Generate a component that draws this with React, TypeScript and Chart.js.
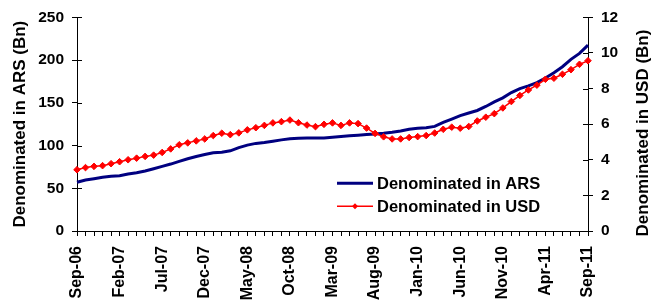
import React, { useEffect, useRef } from 'react';
import { Chart, registerables } from 'chart.js';

Chart.register(...registerables);

const FONT = "'Liberation Sans', Arial, Helvetica, sans-serif";

const MONTHS: string[] = [
  'Sep-06', 'Oct-06', 'Nov-06', 'Dec-06',
  'Jan-07', 'Feb-07', 'Mar-07', 'Apr-07', 'May-07', 'Jun-07', 'Jul-07', 'Aug-07', 'Sep-07', 'Oct-07', 'Nov-07', 'Dec-07',
  'Jan-08', 'Feb-08', 'Mar-08', 'Apr-08', 'May-08', 'Jun-08', 'Jul-08', 'Aug-08', 'Sep-08', 'Oct-08', 'Nov-08', 'Dec-08',
  'Jan-09', 'Feb-09', 'Mar-09', 'Apr-09', 'May-09', 'Jun-09', 'Jul-09', 'Aug-09', 'Sep-09', 'Oct-09', 'Nov-09', 'Dec-09',
  'Jan-10', 'Feb-10', 'Mar-10', 'Apr-10', 'May-10', 'Jun-10', 'Jul-10', 'Aug-10', 'Sep-10', 'Oct-10', 'Nov-10', 'Dec-10',
  'Jan-11', 'Feb-11', 'Mar-11', 'Apr-11', 'May-11', 'Jun-11', 'Jul-11', 'Aug-11', 'Sep-11',
];

const SHOWN_LABELS: string[] = [
  'Sep-06', 'Feb-07', 'Jul-07', 'Dec-07', 'May-08', 'Oct-08', 'Mar-09',
  'Aug-09', 'Jan-10', 'Jun-10', 'Nov-10', 'Apr-11', 'Sep-11',
];

// Denominated in ARS (Bn) - left axis
const ARS: number[] = [
  57, 59.7, 61.2, 62.8, 64, 64.7, 66.7, 68.2, 70.2, 72.9,
  75.6, 78.3, 81.4, 84.5, 87.2, 89.5, 91.5, 92.2, 93.8, 97.5,
  100.5, 102.5, 103.5, 105, 106.6, 107.8, 108.5, 108.9, 108.9, 108.9,
  109.7, 110.5, 111.3, 112, 112.8, 113.6, 114.3, 115.5, 117.1, 119,
  120.2, 120.9, 122.4, 127, 131, 134.9, 138, 141, 145.7, 151,
  155.8, 162, 166.6, 169.8, 173.6, 179, 185.2, 192.2, 200.8, 207.8,
  217.5,
];

// Denominated in USD (Bn) - right axis
const USD: number[] = [
  3.44, 3.56, 3.63, 3.67, 3.78, 3.89, 4.0, 4.09, 4.19, 4.26,
  4.41, 4.61, 4.84, 4.95, 5.06, 5.17, 5.36, 5.49, 5.41, 5.51,
  5.68, 5.8, 5.93, 6.07, 6.14, 6.23, 6.08, 5.95, 5.86, 5.99,
  6.07, 5.93, 6.07, 6.03, 5.78, 5.48, 5.29, 5.17, 5.17, 5.25,
  5.3, 5.36, 5.5, 5.71, 5.83, 5.77, 5.87, 6.18, 6.39, 6.59,
  6.91, 7.27, 7.61, 7.92, 8.19, 8.52, 8.58, 8.8, 9.06, 9.36,
  9.56,
];

const LEFT_TITLE = 'Denominated in ARS (Bn)';
const RIGHT_TITLE = 'Denominated in USD (Bn)';
const ARS_LABEL = 'Denominated in ARS';
const USD_LABEL = 'Denominated in USD';

const ARS_COLOR = '#000080';
const USD_COLOR = '#FF0000';

const extrasPlugin = {
  id: 'extras',
  afterDraw(chart: any) {
    const ctx = chart.ctx as CanvasRenderingContext2D;
    const y = chart.scales.y;
    const y1 = chart.scales.y1;
    const area = chart.chartArea;
    ctx.save();
    // inner half of the crossing tick marks
    ctx.strokeStyle = '#000';
    ctx.lineWidth = 1;
    y.ticks.forEach((_t: any, i: number) => {
      const py = Math.round(y.getPixelForTick(i)) + 0.5;
      ctx.beginPath();
      ctx.moveTo(area.left, py);
      ctx.lineTo(area.left + 5, py);
      ctx.stroke();
    });
    y1.ticks.forEach((_t: any, i: number) => {
      const py = Math.round(y1.getPixelForTick(i)) + 0.5;
      ctx.beginPath();
      ctx.moveTo(area.right, py);
      ctx.lineTo(area.right - 5, py);
      ctx.stroke();
    });

    // right axis title, reading bottom-to-top
    ctx.fillStyle = '#000';
    ctx.font = `bold 17px ${FONT}`;
    ctx.textAlign = 'center';
    ctx.textBaseline = 'middle';
    ctx.translate(643, 133);
    ctx.rotate(-Math.PI / 2);
    ctx.fillText(RIGHT_TITLE, 0, 0);
    ctx.restore();

    // legend inside plot area
    ctx.save();
    const lx = area.left + 260;
    const ly1 = area.top + 166;
    const ly2 = area.top + 189;
    ctx.lineCap = 'butt';
    ctx.strokeStyle = ARS_COLOR;
    ctx.lineWidth = 3;
    ctx.beginPath();
    ctx.moveTo(lx, ly1);
    ctx.lineTo(lx + 36, ly1);
    ctx.stroke();
    ctx.strokeStyle = USD_COLOR;
    ctx.lineWidth = 1.5;
    ctx.beginPath();
    ctx.moveTo(lx, ly2);
    ctx.lineTo(lx + 36, ly2);
    ctx.stroke();
    ctx.fillStyle = USD_COLOR;
    ctx.beginPath();
    ctx.moveTo(lx + 18, ly2 - 3);
    ctx.lineTo(lx + 21, ly2);
    ctx.lineTo(lx + 18, ly2 + 3);
    ctx.lineTo(lx + 15, ly2);
    ctx.closePath();
    ctx.fill();
    ctx.fillStyle = '#000';
    ctx.font = `bold 16.5px ${FONT}`;
    ctx.textAlign = 'left';
    ctx.textBaseline = 'middle';
    ctx.fillText(ARS_LABEL, lx + 40, ly1 + 1);
    ctx.fillText(USD_LABEL, lx + 40, ly2 + 1);
    ctx.restore();
  },
};

export default function App() {
  const ref = useRef<HTMLCanvasElement>(null);
  useEffect(() => {
    if (!ref.current) return;
    const tickFont = { family: FONT, size: 15.5, weight: 'bold' as const };
    const chart = new Chart(ref.current, {
      type: 'line',
      data: {
        labels: MONTHS,
        datasets: [
          {
            label: ARS_LABEL,
            data: ARS,
            yAxisID: 'y',
            borderColor: ARS_COLOR,
            backgroundColor: ARS_COLOR,
            borderWidth: 3,
            pointRadius: 0,
            tension: 0,
            order: 1,
          },
          {
            label: USD_LABEL,
            data: USD,
            yAxisID: 'y1',
            borderColor: USD_COLOR,
            backgroundColor: USD_COLOR,
            borderWidth: 1.5,
            pointStyle: 'rectRot',
            pointRadius: 3.3,
            pointBorderWidth: 1,
            pointBackgroundColor: USD_COLOR,
            pointBorderColor: USD_COLOR,
            tension: 0,
            order: 0,
          },
        ],
      },
      options: {
        responsive: false,
        animation: false,
        layout: { padding: { top: 16, left: 0, right: 0, bottom: 0 } },
        plugins: {
          legend: { display: false },
          tooltip: { enabled: false },
        },
        scales: {
          x: {
            type: 'category',
            offset: false,
            afterFit: (s: any) => { s.height = 72; },
            grid: {
              display: true,
              drawOnChartArea: false,
              drawTicks: true,
              tickLength: 5,
              color: '#000',
            },
            border: { display: true, color: '#000', width: 1 },
            ticks: {
              autoSkip: false,
              maxRotation: 90,
              minRotation: 90,
              padding: 10,
              color: '#000',
              font: { family: FONT, size: 16, weight: 'bold' },
              callback: (_v: any, i: number) =>
                SHOWN_LABELS.includes(MONTHS[i]) ? MONTHS[i] : '',
            },
          },
          y: {
            position: 'left',
            min: 0,
            max: 250,
            afterFit: (s: any) => { s.width = 77; },
            grid: {
              drawOnChartArea: false,
              drawTicks: true,
              tickLength: 5,
              color: '#000',
            },
            border: { display: true, color: '#000', width: 1 },
            ticks: { stepSize: 50, padding: 8, color: '#000', font: tickFont },
            title: {
              display: true,
              text: LEFT_TITLE,
              color: '#000',
              font: { family: FONT, size: 17, weight: 'bold' },
              padding: { top: 10, bottom: 0 },
            },
          },
          y1: {
            position: 'right',
            min: 0,
            max: 12,
            afterFit: (s: any) => { s.width = 73; },
            grid: {
              drawOnChartArea: false,
              drawTicks: true,
              tickLength: 5,
              color: '#000',
            },
            border: { display: true, color: '#000', width: 1 },
            ticks: { stepSize: 2, padding: 8, color: '#000', font: tickFont },
          },
        },
      },
      plugins: [extrasPlugin],
    });
    return () => chart.destroy();
  }, []);
  return (
    <div style={{ position: 'absolute', left: 0, top: 0, width: 661, height: 303 }}>
      <canvas ref={ref} width={661} height={303} style={{ width: 661, height: 303 }} />
    </div>
  );
}
